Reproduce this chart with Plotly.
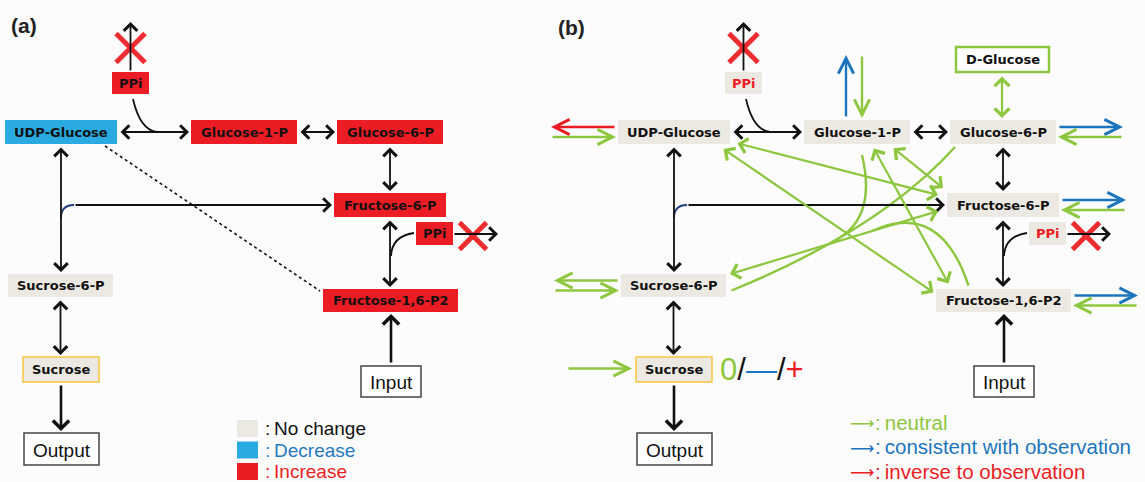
import math
import plotly.graph_objects as go

W, H = 1145, 482

# ---------------- data ----------------
node_ids = ["ppi1", "udp", "g1p", "g6p", "f6p", "ppi2", "f16", "s6p", "suc", "inp", "out", "dglc"]
node_labels = ["PPi", "UDP-Glucose", "Glucose-1-P", "Glucose-6-P", "Fructose-6-P", "PPi",
               "Fructose-1,6-P2", "Sucrose-6-P", "Sucrose", "Input", "Output", "D-Glucose"]
# metabolite change in panel (a)
status_a = ["Increase", "Decrease", "Increase", "Increase", "Increase", "Increase",
            "Increase", "No change", "No change", "io", "io", None]
# panel (b): all metabolites unchanged
status_b = ["No change"] * 9 + ["io", "io", "external"]

legend_a_labels = ["No change", "Decrease", "Increase"]
legend_b_labels = ["neutral", "consistent with observation", "inverse to observation"]
legend_b_kinds = ["neutral", "consistent", "inverse"]
sign_labels = ["0", "\u2014", "+"]
sign_kinds = ["neutral", "consistent", "inverse"]

# pathway reactions (black arrows): from, to, direction
reactions = [("udp", "g1p", "both"), ("g1p", "g6p", "both"), ("g6p", "f6p", "both"),
             ("f6p", "f16", "both"), ("udp", "s6p", "both"), ("s6p", "suc", "both"),
             ("suc", "out", "end"), ("inp", "f16", "end")]

# flux perturbation arrows in panel (b): node, side, lane (out/in), kind
perturbations = [("udp", "left", "out", "inverse"), ("udp", "left", "in", "neutral"),
                 ("g1p", "top", "out", "consistent"), ("g1p", "top", "in", "neutral"),
                 ("g6p", "right", "out", "consistent"), ("g6p", "right", "in", "neutral"),
                 ("f6p", "right", "out", "consistent"), ("f6p", "right", "in", "neutral"),
                 ("f16", "right", "out", "consistent"), ("f16", "right", "in", "neutral"),
                 ("s6p", "left", "out", "neutral"), ("s6p", "left", "in", "neutral"),
                 ("suc", "left", "mid", "neutral")]

# neutral cross-influences in panel (b): (node, anchor offset), (node, anchor offset)
cross_links = [(("udp", (62, 11)), ("f6p", (-65, -10))),
               (("udp", (48, 16)), ("f16", (-70, -8))),
               (("g1p", (16, 15)), ("f16", (-55, -17))),
               (("g1p", (35, 15)), ("f6p", (-60, -17))),
               (("s6p", (55, -11)), ("f6p", (-65, 6)))]

# ---------------- layout geometry ----------------
node_cx = [130.5, 61, 244, 390, 390, 434.5, 390.5, 60.5, 61, 391, 61.5, 389.5]
node_cy = [83, 132, 132, 132, 205, 233.5, 300.5, 285.5, 369.5, 381.5, 449, 59.5]
node_w = [37, 112, 106, 106, 112, 37, 135, 105, 76, 60, 75, 93]
node_h = [22, 24, 24, 24, 24, 23, 23, 23, 25, 31, 32, 25]
panel_dx = [0, 613]

fill = {"Increase": "#EC1C24", "Decrease": "#29ABE2", "No change": "#ECE9E2"}
kind_color = {"neutral": "#8DC63F", "consistent": "#1C75BC", "inverse": "#EC1C24"}
BLACK = "#111111"
XRED = "#EE2B2E"

N = {nid: dict(label=l, cx=cx, cy=cy, w=w, h=h)
     for nid, l, cx, cy, w, h in zip(node_ids, node_labels, node_cx, node_cy, node_w, node_h)}

shapes, annotations = [], []


def ext(nid, dx):
    n = N[nid]
    return (n["cx"] - n["w"] / 2 + dx, n["cx"] + n["w"] / 2 + dx,
            n["cy"] - n["h"] / 2, n["cy"] + n["h"] / 2)


def arrow(x0, y0, x1, y1, color, width, both=False, head=4, size=1.2):
    annotations.append(dict(
        x=x1, y=y1, ax=x0, ay=y0, xref="x", yref="y", axref="x", ayref="y",
        text="", showarrow=True, arrowhead=head, arrowsize=size, arrowwidth=width,
        arrowcolor=color, arrowside="end+start" if both else "end",
        startarrowhead=head, startarrowsize=size, standoff=0, startstandoff=0,
        font=dict(size=1)))


def head_on_curve(cx, cy, tx, ty, color, width, head=4, size=1.2):
    # arrowhead at (tx,ty) oriented along tangent from control point (cx,cy)
    d = math.hypot(tx - cx, ty - cy)
    ux, uy = (tx - cx) / d, (ty - cy) / d
    arrow(tx - ux * 3, ty - uy * 3, tx, ty, color, width, head=head, size=size)


def qcurve(p0, c, p1, color, width, head_end=True, head_start=False, size=1.2):
    shapes.append(dict(type="path", path=f"M {p0[0]},{p0[1]} Q {c[0]},{c[1]} {p1[0]},{p1[1]}",
                       line=dict(color=color, width=width), xref="x", yref="y", layer="below"))
    if head_end:
        head_on_curve(c[0], c[1], p1[0], p1[1], color, width, size=size)
    if head_start:
        head_on_curve(c[0], c[1], p0[0], p0[1], color, width, size=size)


def cross(cx, cy, r):
    for sx in (-1, 1):
        shapes.append(dict(type="line", x0=cx - r, y0=cy - sx * r, x1=cx + r, y1=cy + sx * r,
                           xref="x", yref="y", line=dict(color=XRED, width=5)))


BSZ = 1.45  # black arrowhead size


def draw_panel(p, status):
    dx = panel_dx[p]
    gap = 2
    # reactions
    for a, b, d in reactions:
        ax0, ax1, ay0, ay1 = ext(a, dx)
        bx0, bx1, by0, by1 = ext(b, dx)
        thick = d == "end"
        w = 2.6 if thick else 1.8
        sz = 1.2 if thick else BSZ
        if abs(N[a]["cy"] - N[b]["cy"]) < 1:
            x0, x1 = (ax1 + gap, bx0 - gap) if ax1 < bx0 else (ax0 - gap, bx1 + gap)
            y = N[a]["cy"]
            arrow(x0, y, x1, y, BLACK, w, both=(d == "both"), size=sz)
        else:
            x = N[a]["cx"] + dx
            y0, y1 = (ay1 + gap, by0 - gap) if ay1 < by0 else (ay0 - gap, by1 + gap)
            arrow(x, y0, x, y1, BLACK, w, both=(d == "both"), size=sz)
    # PPi release from UDP-Glucose <-> Glucose-1-P
    p1x0, p1x1, p1y0, p1y1 = ext("ppi1", dx)
    qcurve((157 + dx, 132), (140 + dx, 130), (N["ppi1"]["cx"] + 2.5 + dx, p1y1 + 5), BLACK, 1.8, size=BSZ)
    arrow(N["ppi1"]["cx"] + dx, p1y0, N["ppi1"]["cx"] + dx, 22, BLACK, 1.8, size=BSZ)
    cross(N["ppi1"]["cx"] + dx, 48, 14.5)
    # PPi release from Fructose-6-P -> Fructose-1,6-P2
    p2x0, p2x1, p2y0, p2y1 = ext("ppi2", dx)
    qcurve((N["f6p"]["cx"] + 1 + dx, 256), (N["f6p"]["cx"] + 2 + dx, 236), (p2x0 - 2, 233), BLACK, 1.8, size=BSZ)
    arrow(p2x1, 234, p2x1 + 45, 234, BLACK, 1.8, size=BSZ)
    cross(p2x1 + 20, 236, 13.5)
    # UDP-Glucose/Sucrose-6-P branch to Fructose-6-P
    ux = N["udp"]["cx"] + dx
    fy = N["f6p"]["cy"]
    shapes.append(dict(type="path", path=f"M {ux},{fy + 13} Q {ux},{fy} {ux + 13},{fy}",
                       line=dict(color="#1F3E7A", width=1.8), xref="x", yref="y"))
    arrow(ux + 13, fy, ext("f6p", dx)[0] - gap, fy, BLACK, 1.8, size=BSZ)
    # boxes
    for i, nid in enumerate(node_ids):
        st = status[i]
        if st is None:
            continue
        x0, x1, y0, y1 = ext(nid, dx)
        if st == "io":
            shapes.append(dict(type="rect", x0=x0, x1=x1, y0=y0, y1=y1, xref="x", yref="y",
                               fillcolor="white", line=dict(color="#444444", width=1.5)))
            annotations.append(dict(x=(x0 + x1) / 2, y=(y0 + y1) / 2 + 1, xref="x", yref="y",
                                    text=N[nid]["label"], showarrow=False,
                                    font=dict(family="Liberation Sans, Arial", size=19, color="#111111")))
            continue
        if st == "external":
            shapes.append(dict(type="rect", x0=x0, x1=x1, y0=y0, y1=y1, xref="x", yref="y",
                               fillcolor="white", line=dict(color=kind_color["neutral"], width=2.5)))
        else:
            border = dict(color="#F7C53C", width=1.5) if nid == "suc" else dict(width=0)
            shapes.append(dict(type="rect", x0=x0, x1=x1, y0=y0, y1=y1, xref="x", yref="y",
                               fillcolor=fill[st], line=border))
        tcolor = "#EC1C24" if (p == 1 and nid in ("ppi1", "ppi2")) else "#111111"
        annotations.append(dict(x=(x0 + x1) / 2, y=(y0 + y1) / 2, xref="x", yref="y",
                                text=N[nid]["label"], showarrow=False,
                                font=dict(family="DejaVu Sans", size=13, color=tcolor, weight="bold")))


draw_panel(0, status_a)
draw_panel(1, status_b)

# panel (a): UDP-Glucose dotted influence on Fructose-1,6-P2
ux0, ux1, uy0, uy1 = ext("udp", 0)
fx0, fx1, fy0, fy1 = ext("f16", 0)
sx, sy, tx, ty = ux1 - 12, uy1 + 2, fx0 - 3, fy0 + 2
shapes.append(dict(type="line", x0=sx, y0=sy, x1=tx, y1=ty, xref="x", yref="y",
                   line=dict(color=BLACK, width=1.6, dash="dot")))
head_on_curve(sx, sy, tx, ty, BLACK, 1.6, size=BSZ)

# panel (b): perturbation arrows
dxb = panel_dx[1]
L, G = 65, 2
for nid, side, lane, kind in perturbations:
    x0, x1, y0, y1 = ext(nid, dxb)
    cx, cy = N[nid]["cx"] + dxb, N[nid]["cy"]
    col = kind_color[kind]
    if side in ("left", "right"):
        off = {"out": -5, "in": 5, "mid": -1}[lane]
        y = cy + off
        near = x0 - G if side == "left" else x1 + G
        far = near - L if side == "left" else near + L
        if lane == "mid":
            near -= 2
            far -= 2
        a, b = (near, far) if lane == "out" else (far, near)
        arrow(a, y, b, y, col, 2.4, head=5, size=1.25)
    else:
        off = {"out": -11, "in": 5}[lane]
        x = cx + off
        near, far = y0 - G, y0 - G - 63
        a, b = (near, far) if lane == "out" else (far, near)
        arrow(x, a, x, b, col, 2.4, head=5, size=1.25)

# D-Glucose <-> Glucose-6-P
dgx0, dgx1, dgy0, dgy1 = ext("dglc", dxb)
g6x0, g6x1, g6y0, g6y1 = ext("g6p", dxb)
arrow(N["g6p"]["cx"] + dxb - 1, dgy1 + 3, N["g6p"]["cx"] + dxb - 1, g6y0 - 2,
      kind_color["neutral"], 2.2, both=True, head=4, size=1.3)

GREEN = kind_color["neutral"]


def anchor(nid, off):
    return N[nid]["cx"] + dxb + off[0], N[nid]["cy"] + off[1]


for (na, oa), (nb, ob) in cross_links:
    xa, ya = anchor(na, oa)
    xb, yb = anchor(nb, ob)
    arrow(xa, ya, xb, yb, GREEN, 2.2, both=True, head=4, size=1.3)

# curved neutral influences
s6 = anchor("s6p", (58, 5))
g6 = anchor("g6p", (-48, 15))
qcurve(s6, (880, 230), g6, GREEN, 2.4, head_end=True, head_start=True, size=1.2)
g1 = anchor("g1p", (5, 23))
qcurve((830, 243), (878, 222), g1, GREEN, 2.4, head_end=True, size=1.2)
f16 = anchor("f16", (-35, -15))
qcurve((872, 231), (940, 200), f16, GREEN, 2.4, head_end=True, size=1.2)

# sign legend next to Sucrose
sx1 = ext("suc", dxb)[1]
sign_html = "/".join(f"<span style='color:{kind_color[k]}'>{s}</span>" for s, k in zip(sign_labels, sign_kinds))
annotations.append(dict(x=sx1 + 6, y=N["suc"]["cy"], xref="x", yref="y", xanchor="left",
                        text=sign_html, showarrow=False,
                        font=dict(family="Liberation Sans, Arial", size=31, color="#111111")))

# panel labels
annotations.append(dict(x=9, y=25, xref="x", yref="y", xanchor="left", text="(a)", showarrow=False,
                        font=dict(family="Liberation Sans, Arial", size=21, color="#222", weight="bold")))
annotations.append(dict(x=556, y=27, xref="x", yref="y", xanchor="left", text="(b)", showarrow=False,
                        font=dict(family="Liberation Sans, Arial", size=21, color="#222", weight="bold")))

# legend (a)
leg_a_colors = [fill["No change"], fill["Decrease"], fill["Increase"]]
leg_a_text = ["#111111", "#2879C0", "#EC1C24"]
for i, (lab, fc, tc) in enumerate(zip(legend_a_labels, leg_a_colors, leg_a_text)):
    y0 = 420 + 21.5 * i
    shapes.append(dict(type="rect", x0=237, x1=258, y0=y0, y1=y0 + 17, xref="x", yref="y",
                       fillcolor=fc, line=dict(width=0)))
    annotations.append(dict(x=263, y=y0 + 8.5, xref="x", yref="y", xanchor="left", showarrow=False,
                            text=":" + "\u2009" + lab,
                            font=dict(family="Liberation Sans, Arial", size=19, color=tc)))

# legend (b)
for i, (lab, k) in enumerate(zip(legend_b_labels, legend_b_kinds)):
    yy = 422 + 24.5 * i
    annotations.append(dict(x=848, y=yy + 1, xref="x", yref="y", xanchor="left", showarrow=False,
                            text="\u27F6",
                            font=dict(family="DejaVu Sans", size=17, color=kind_color[k])))
    annotations.append(dict(x=873, y=yy, xref="x", yref="y", xanchor="left", showarrow=False,
                            text=":" + "\u2009" + lab,
                            font=dict(family="Liberation Sans, Arial", size=20.5, color=kind_color[k])))

fig = go.Figure()
fig.update_layout(
    width=W, height=H, margin=dict(l=0, r=0, t=0, b=0),
    paper_bgcolor="#FCFCFC", plot_bgcolor="#FCFCFC",
    xaxis=dict(range=[0, W], visible=False, fixedrange=True),
    yaxis=dict(range=[H, 0], visible=False, fixedrange=True),
    shapes=shapes, annotations=annotations, showlegend=False,
)
fig.write_html("out.html", config={"displayModeBar": False},
               post_script="document.body.style.margin='0';document.body.style.overflow='hidden';")
